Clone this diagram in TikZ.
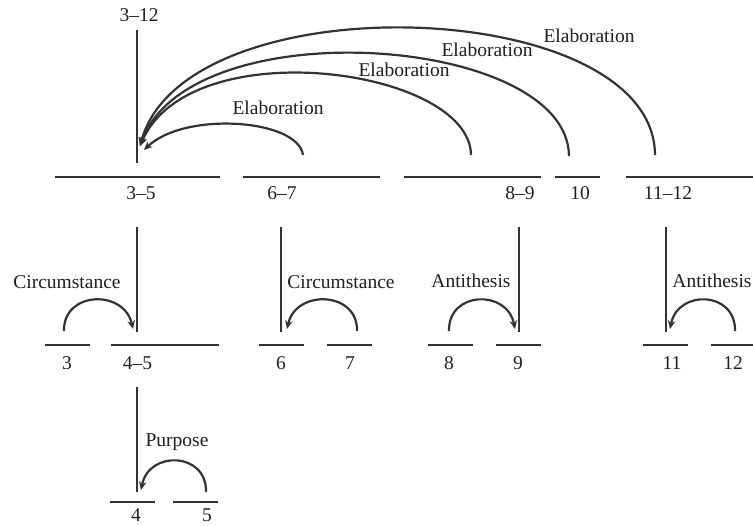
\documentclass[tikz,border=0pt]{standalone}
\usepackage{fontspec}
\setmainfont{Liberation Serif}
\usetikzlibrary{arrows.meta}
\definecolor{linec}{HTML}{333333}
\begin{document}
\begin{tikzpicture}[x=1pt,y=-1pt,
  ln/.style={draw=linec, line width=2.2pt},
  rel/.style={draw=linec, line width=2.2pt, -{Stealth[length=8.5pt,width=7.5pt]}},
  lab/.style={anchor=base, inner sep=0pt, font=\fontsize{19.5}{23}\selectfont, text=black!88}]
\useasboundingbox (0,0) rectangle (753,526);

% ---------- level 1 spans ----------
\coordinate (u35a) at (55,177);   \coordinate (u35b) at (220,177);
\coordinate (u67a) at (243,177);    \coordinate (u67b) at (380,177);
\coordinate (u89a) at (404,177);    \coordinate (u89b) at (541,177);
\coordinate (u10a) at (555,177);  \coordinate (u10b) at (600,177);
\coordinate (u1112a) at (626,177);  \coordinate (u1112b) at (753,177);
\draw[ln] (u35a) -- (u35b);
\draw[ln] (u67a) -- (u67b);
\draw[ln] (u89a) -- (u89b);
\draw[ln] (u10a) -- (u10b);
\draw[ln] (u1112a) -- (u1112b);

% top vertical
\coordinate (t312) at (137,30);
\coordinate (b312) at (137,163);
\draw[ln] (t312) -- (b312);
\node[lab] (l312) at (139,21.5) {3–12};

\node[lab] (l35) at (141,200) {3–5};
\node[lab] (l67) at (282,200) {6–7};
\node[lab] (l89) at (520,200) {8–9};
\node[lab] (l10) at (580,200) {10};
\node[lab] (l1112) at (668,200) {11–12};

% ---------- elaboration arcs ----------
\coordinate (e1s) at (303,155);  \coordinate (e1t) at (144,150);
\coordinate (e2s) at (471,155);  \coordinate (e2t) at (140,146);
\coordinate (e3s) at (569,156);  \coordinate (e3t) at (140,146);
\coordinate (e4s) at (655,155);  \coordinate (e4t) at (140,146);
\draw[rel] (e1s) .. controls (298,119) and (185,111) .. (e1t);
\draw[rel] (e2s) .. controls (470,68) and (190,30) .. (e2t);
\draw[rel] (e3s) .. controls (568,35) and (190,8) .. (e3t);
\draw[rel] (e4s) .. controls (654,-5) and (185,-20) .. (e4t);
\node[lab] (el1) at (278,115) {Elaboration};
\node[lab] (el2) at (404,77) {Elaboration};
\node[lab] (el3) at (487,57) {Elaboration};
\node[lab] (el4) at (589,43) {Elaboration};

% ---------- level 2 verticals ----------
\coordinate (v35a) at (137,227);   \coordinate (v35b) at (137,332);
\coordinate (v67a) at (281,227); \coordinate (v67b) at (281,332);
\coordinate (v89a) at (519,227);   \coordinate (v89b) at (519,332);
\coordinate (v1112a) at (666,227); \coordinate (v1112b) at (666,332);
\draw[ln] (v35a) -- (v35b);
\draw[ln] (v67a) -- (v67b);
\draw[ln] (v89a) -- (v89b);
\draw[ln] (v1112a) -- (v1112b);

% level 2 spans
\coordinate (u3a) at (45,345);   \coordinate (u3b) at (90,345);
\coordinate (u45a) at (111,345); \coordinate (u45b) at (219,345);
\coordinate (u6a) at (259,345);  \coordinate (u6b) at (304,345);
\coordinate (u7a) at (327,345);  \coordinate (u7b) at (372,345);
\coordinate (u8a) at (428,345);  \coordinate (u8b) at (473,345);
\coordinate (u9a) at (496,345);  \coordinate (u9b) at (541,345);
\coordinate (u11a) at (643,345); \coordinate (u11b) at (688,345);
\coordinate (u12a) at (711,345); \coordinate (u12b) at (753,345);
\foreach \s in {3,45,6,7,8,9,11,12} \draw[ln] (u\s a) -- (u\s b);

\node[lab] (l3) at (67,370) {3};
\node[lab] (l45) at (137.5,370) {4–5};
\node[lab] (l6) at (281,370) {6};
\node[lab] (l7) at (350,370) {7};
\node[lab] (l8) at (449,370) {8};
\node[lab] (l9) at (518,370) {9};
\node[lab] (l11) at (672,370) {11};
\node[lab] (l12) at (733,370) {12};

% level 2 relations
\coordinate (c1s) at (64,331);  \coordinate (c1t) at (133,329);
\coordinate (c2s) at (357,331); \coordinate (c2t) at (287,329);
\coordinate (a1s) at (449,331); \coordinate (a1t) at (515,329);
\coordinate (a2s) at (735,331); \coordinate (a2t) at (670,329);
\draw[rel] (c1s) .. controls (63,291) and (124,289) .. (c1t);
\draw[rel] (c2s) .. controls (358,291) and (296,289) .. (c2t);
\draw[rel] (a1s) .. controls (448,291) and (507,289) .. (a1t);
\draw[rel] (a2s) .. controls (736,291) and (678,289) .. (a2t);
\node[lab] (rc1) at (67,289) {Circumstance};
\node[lab] (rc2) at (341,289) {Circumstance};
\node[lab] (ra1) at (471,288) {Antithesis};
\node[lab] (ra2) at (712,288) {Antithesis};

% ---------- level 3 ----------
\coordinate (v45a) at (137,387); \coordinate (v45b) at (137,492);
\draw[ln] (v45a) -- (v45b);
\coordinate (u4a) at (110,502);  \coordinate (u4b) at (155,502);
\coordinate (u5a) at (173,502);  \coordinate (u5b) at (218,502);
\draw[ln] (u4a) -- (u4b);
\draw[ln] (u5a) -- (u5b);
\node[lab] (l4) at (136,522) {4};
\node[lab] (l5) at (207,522) {5};
\coordinate (p1s) at (206,492); \coordinate (p1t) at (141,490);
\draw[rel] (p1s) .. controls (207,452) and (149,450) .. (p1t);
\node[lab] (rp1) at (177,447) {Purpose};
\end{tikzpicture}
\end{document}
